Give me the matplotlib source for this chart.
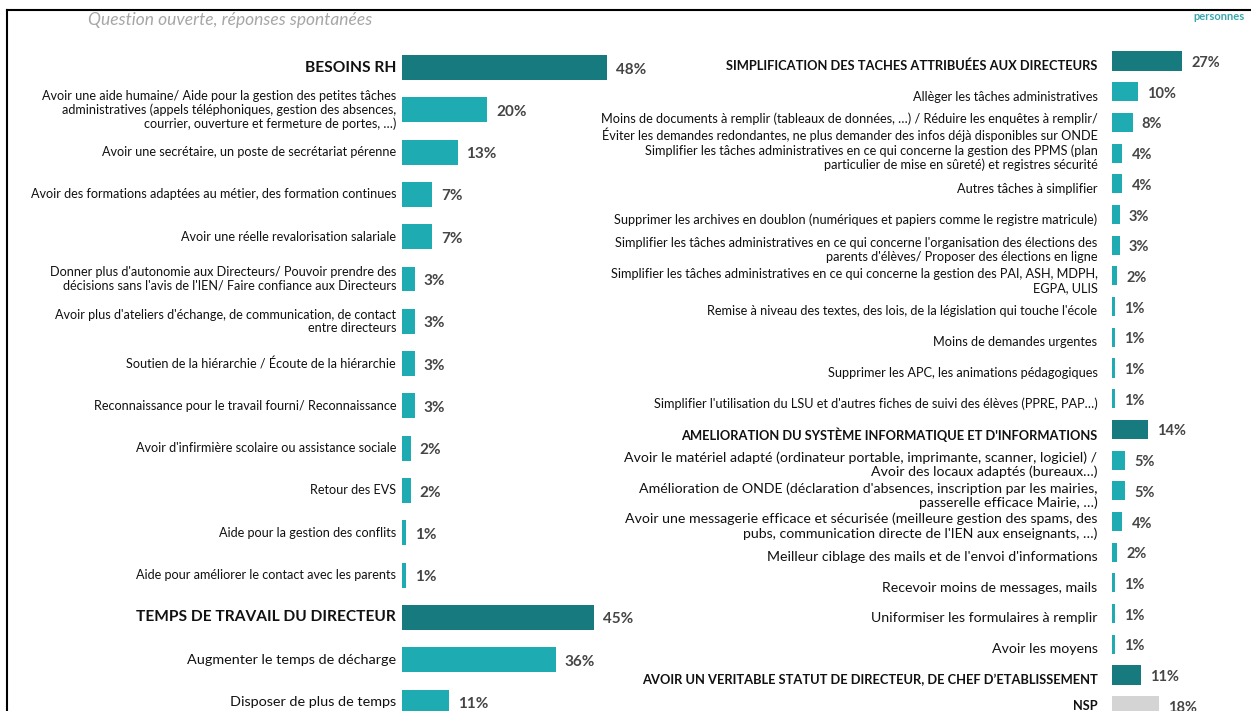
import matplotlib
matplotlib.use("Agg")
import matplotlib.pyplot as plt
from matplotlib.lines import Line2D

plt.rcParams["font.family"] = ["Lato", "DejaVu Sans"]

# ---- data -----------------------------------------------------------------
left_labels = [
    "BESOINS RH",
    "Avoir une aide humaine/ Aide pour la gestion des petites tâches\n"
    "administratives (appels téléphoniques, gestion des absences,\n"
    "courrier, ouverture et fermeture de portes, …)",
    "Avoir une secrétaire, un poste de secrétariat pérenne",
    "Avoir des formations adaptées au métier, des formation continues",
    "Avoir une réelle revalorisation salariale",
    "Donner plus d'autonomie aux Directeurs/ Pouvoir prendre des\n"
    "décisions sans l'avis de l'IEN/ Faire confiance aux Directeurs",
    "Avoir plus d'ateliers d'échange, de communication, de contact\n"
    "entre directeurs",
    "Soutien de la hiérarchie / Écoute de la hiérarchie",
    "Reconnaissance pour le travail fourni/ Reconnaissance",
    "Avoir d'infirmière scolaire ou assistance sociale",
    "Retour des EVS",
    "Aide pour la gestion des conflits",
    "Aide pour améliorer le contact avec les parents",
    "TEMPS DE TRAVAIL DU DIRECTEUR",
    "Augmenter le temps de décharge",
    "Disposer de plus de temps",
]
left_values = [48, 20, 13, 7, 7, 3, 3, 3, 3, 2, 2, 1, 1, 45, 36, 11]
left_kinds = ["H", "S", "S", "S", "S", "S", "S", "S", "S", "S", "S", "S", "S",
              "H", "L", "L"]

right_labels = [
    "SIMPLIFICATION DES TACHES ATTRIBUÉES AUX DIRECTEURS",
    "Allèger les tâches administratives",
    "Moins de documents à remplir (tableaux de données, …) / Réduire les enquêtes à remplir/\n"
    "Éviter les demandes redondantes, ne plus demander des infos déjà disponibles sur ONDE",
    "Simplifier les tâches administratives en ce qui concerne la gestion des PPMS (plan\n"
    "particulier de mise en sûreté) et registres sécurité",
    "Autres tâches à simplifier",
    "Supprimer les archives en doublon (numériques et papiers comme le registre matricule)",
    "Simplifier les tâches administratives en ce qui concerne l'organisation des élections des\n"
    "parents d'élèves/ Proposer des élections en ligne",
    "Simplifier les tâches administratives en ce qui concerne la gestion des PAI, ASH, MDPH,\n"
    "EGPA, ULIS",
    "Remise à niveau des textes, des lois, de la législation qui touche l'école",
    "Moins de demandes urgentes",
    "Supprimer les APC, les animations pédagogiques",
    "Simplifier l'utilisation du LSU et d'autres fiches de suivi des élèves (PPRE, PAP…)",
    "AMELIORATION DU SYSTÈME INFORMATIQUE ET D'INFORMATIONS",
    "Avoir le matériel adapté (ordinateur portable, imprimante, scanner, logiciel) /\n"
    "Avoir des locaux adaptés (bureaux…)",
    "Amélioration de ONDE (déclaration d'absences, inscription par les mairies,\n"
    "passerelle efficace Mairie, …)",
    "Avoir une messagerie efficace et sécurisée (meilleure gestion des spams, des\n"
    "pubs, communication directe de l'IEN aux enseignants, …)",
    "Meilleur ciblage des mails et de l'envoi d'informations",
    "Recevoir moins de messages, mails",
    "Uniformiser les formulaires à remplir",
    "Avoir les moyens",
    "AVOIR UN VERITABLE STATUT DE DIRECTEUR, DE CHEF D’ETABLISSEMENT",
    "NSP",
]
right_values = [27, 10, 8, 4, 4, 3, 3, 2, 1, 1, 1, 1, 14, 5, 5, 4, 2, 1, 1, 1, 11, 18]
right_kinds = ["H"] + ["S"] * 11 + ["H"] + ["L"] * 7 + ["H", "N"]

# ---- styles ---------------------------------------------------------------
DARK = "#167a7f"
LIGHT = "#1eacb2"
GREY = "#d4d4d4"
bar_color = {"H": DARK, "S": LIGHT, "L": LIGHT, "N": GREY}

W, H = 1251, 711
fig = plt.figure(figsize=(W / 100, H / 100), dpi=100)


def px_axes(x0, x_per_pct, xmax, y_first, step, n):
    """Create an axes placed in pixel units of the reference."""
    top = y_first - step / 2
    height = step * n
    ax = fig.add_axes([x0 / W, (H - top - height) / H,
                       x_per_pct * xmax / W, height / H])
    ax.set_xlim(0, xmax)
    ax.set_ylim(n - 0.5, -0.5)
    ax.axis("off")
    return ax


def draw_panel(ax, labels, values, kinds, sizes, label_gap, label_dy,
               pct_size, bar_h, linespacing):
    ys = range(len(values))
    ax.barh(list(ys), values, height=bar_h,
            color=[bar_color[k] for k in kinds], clip_on=False)
    for i, (lab, v, k) in enumerate(zip(labels, values, kinds)):
        bold = k in ("H", "N")
        dy = 0 if k == "N" else label_dy
        ax.annotate(lab, xy=(0, i), xytext=(-label_gap, dy),
                    textcoords="offset points", ha="right", va="center",
                    multialignment="right", fontsize=sizes[k],
                    fontweight="bold" if bold else "normal",
                    color="#111111", linespacing=linespacing,
                    annotation_clip=False)
        ax.annotate(f"{v}%", xy=(v, i), xytext=(6.5, -1.5),
                    textcoords="offset points", ha="left", va="center",
                    fontsize=pct_size, fontweight="bold", color="#454545",
                    annotation_clip=False)


left_ax = px_axes(402, 4.27, 50, 67.5, 42.3, len(left_values))
draw_panel(left_ax, left_labels, left_values, left_kinds,
           {"H": 11.2, "S": 9.1, "L": 10.4, "N": 9},
           label_gap=4.3, label_dy=0, pct_size=11, bar_h=0.59,
           linespacing=1.12)

right_ax = px_axes(1112, 2.6, 40, 61, 30.7, len(right_values))
draw_panel(right_ax, right_labels, right_values, right_kinds,
           {"H": 9.3, "S": 9.2, "L": 10.2, "N": 9.2},
           label_gap=10.5, label_dy=-3.5, pct_size=10.5, bar_h=0.62,
           linespacing=1.18)

# header texts
fig.text(88 / W, 1 - 20 / H, "Question ouverte, réponses spontanées",
         fontsize=12.5, style="italic", color="#a6a6a6", va="center", ha="left")
fig.text(1245 / W, 1 - 16 / H, "personnes", fontsize=8, fontweight="bold",
         color="#3aa6ac", va="center", ha="right")

# frame lines of the report box
fig.add_artist(Line2D([7 / W, 1], [1 - 10 / H, 1 - 10 / H], color="black", lw=1.5))
fig.add_artist(Line2D([7 / W, 7 / W], [0, 1 - 10 / H], color="black", lw=1.5))

fig.savefig("out.png", dpi=100)
